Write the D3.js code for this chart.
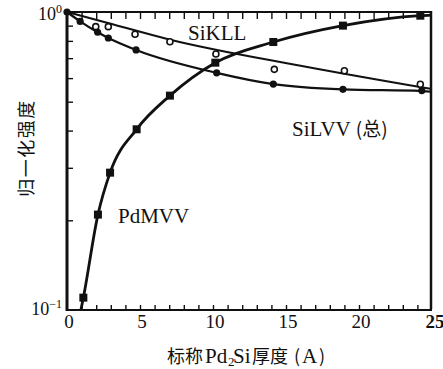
<!DOCTYPE html>
<html>
<head>
<meta charset="utf-8">
<script src="https://cdn.jsdelivr.net/npm/d3@7/dist/d3.min.js"></script>
<style>
  html, body { margin: 0; padding: 0; background: #fff; }
  svg { display: block; }
</style>
</head>
<body>
<svg id="chart" width="443" height="369"></svg>
<script>
// ---- data ----
const xTickLabels = [0, 5, 10, 15, 20, 25];
const yMinorTicks = [0.2, 0.3, 0.4, 0.5, 0.6, 0.7, 0.8, 0.9];

// PdMVV (filled squares)
const pdX = [1.12, 2.12, 2.95, 4.77, 7.05, 10.16, 14.13, 18.9, 24.2];
const pdY = [0.110, 0.209, 0.289, 0.404, 0.524, 0.676, 0.793, 0.900, 0.972];
// PdMVV drawn curve
const pdCurveX = [0.95, 1.12, 2.12, 2.95, 4.77, 7.05, 10.16, 14.13, 18.9, 24.2, 25];
const pdCurveY = [0.100, 0.110, 0.209, 0.289, 0.404, 0.524, 0.676, 0.793, 0.900, 0.972, 0.976];

// SiLVV (total) (filled circles)
const lvvX = [0, 0.9, 2.1, 2.83, 4.73, 10.25, 14.13, 18.9, 24.3];
const lvvY = [1.0, 0.930, 0.855, 0.818, 0.746, 0.625, 0.573, 0.550, 0.545];
const lvvCurveX = [0, 0.9, 2.1, 2.83, 4.73, 10.25, 14.13, 18.9, 24.3, 25];
const lvvCurveY = [1.0, 0.930, 0.855, 0.818, 0.746, 0.625, 0.573, 0.550, 0.543, 0.540];

// SiKLL (open circles)
const kllX = [1.97, 2.83, 4.66, 7.05, 10.2, 14.2, 19.0, 24.2];
const kllY = [0.893, 0.893, 0.842, 0.795, 0.723, 0.642, 0.635, 0.572];
// SiKLL fitted line
const kllCurveX = [0, 2.8, 7, 16, 25];
const kllCurveY = [1.0, 0.919, 0.809, 0.660, 0.551];

// ---- drawing ----
const svg = d3.select("#chart");
const ink = "#111";
const serif = "'Liberation Serif', 'DejaVu Serif', serif";
const cjk = "'Noto Sans CJK SC', sans-serif";

svg.append("rect").attr("width", 443).attr("height", 369).attr("fill", "#fff");

const x = d3.scaleLinear().domain([0, 25]).range([67, 432]);
const y = d3.scaleLog().domain([0.1, 1]).range([310, 12]);

// ticks (inward)
const intTicks = d3.range(1, 25);
const gTop = svg.append("g").attr("transform", `translate(0,${y(1)})`)
  .call(d3.axisTop(x).tickValues(intTicks).tickSize(-7).tickFormat(""));
const gBot = svg.append("g").attr("transform", `translate(0,${y(0.1)})`)
  .call(d3.axisBottom(x).tickValues(intTicks).tickSize(-5).tickFormat(""));
const gLeft = svg.append("g").attr("transform", `translate(${x(0)},0)`)
  .call(d3.axisLeft(y).tickValues(yMinorTicks).tickSize(-6).tickFormat(""));
[gTop, gBot, gLeft].forEach(g => {
  g.select(".domain").remove();
  g.selectAll(".tick line").attr("stroke", ink).attr("stroke-width", 1.4);
});

// frame
const frame = svg.append("g").attr("stroke", ink).attr("fill", "none");
frame.append("line").attr("x1", x(0)).attr("x2", x(0)).attr("y1", y(1) - 1).attr("y2", y(0.1) + 1).attr("stroke-width", 3);
frame.append("line").attr("x1", x(0)).attr("x2", x(25)).attr("y1", y(0.1)).attr("y2", y(0.1)).attr("stroke-width", 2);
frame.append("line").attr("x1", x(0)).attr("x2", x(25)).attr("y1", y(1)).attr("y2", y(1)).attr("stroke-width", 2);
frame.append("line").attr("x1", x(25) - 1).attr("x2", x(25) - 1).attr("y1", y(1) - 1).attr("y2", y(0.1) - 1).attr("stroke-width", 2.5);

// x tick labels
svg.append("g").selectAll("text").data(xTickLabels).join("text")
  .attr("x", d => x(d) + (d === 25 ? 3 : 2))
  .attr("y", 328)
  .attr("text-anchor", "middle")
  .attr("font-family", serif)
  .attr("font-size", 19)
  .attr("font-weight", d => d === 25 ? "bold" : "normal")
  .attr("fill", ink)
  .text(d => d);

// y tick labels 10^0, 10^-1
function powLabel(exp, yy) {
  const t = svg.append("text")
    .attr("x", 62).attr("y", yy)
    .attr("text-anchor", "end")
    .attr("font-family", serif).attr("font-size", 18).attr("fill", ink);
  t.append("tspan").text("10");
  t.append("tspan").attr("font-size", 12).attr("dy", -7).text(exp);
}
powLabel("0", y(1) + 8);
powLabel("\u22121", y(0.1) + 5);

// curves
const line = d3.line().x(d => x(d[0])).y(d => y(d[1])).curve(d3.curveMonotoneX);
svg.append("path").datum(d3.zip(kllCurveX, kllCurveY)).attr("d", line)
  .attr("fill", "none").attr("stroke", ink).attr("stroke-width", 2);
svg.append("path").datum(d3.zip(lvvCurveX, lvvCurveY)).attr("d", line)
  .attr("fill", "none").attr("stroke", ink).attr("stroke-width", 2.2);
svg.append("path").datum(d3.zip(pdCurveX, pdCurveY)).attr("d", line)
  .attr("fill", "none").attr("stroke", ink).attr("stroke-width", 2.8);

// markers
svg.append("g").selectAll("circle").data(d3.zip(kllX, kllY)).join("circle")
  .attr("cx", d => x(d[0])).attr("cy", d => y(d[1])).attr("r", 3)
  .attr("fill", "#fff").attr("stroke", ink).attr("stroke-width", 1.6);
svg.append("g").selectAll("circle").data(d3.zip(lvvX, lvvY)).join("circle")
  .attr("cx", d => x(d[0])).attr("cy", d => y(d[1])).attr("r", 3.6)
  .attr("fill", ink);
svg.append("g").selectAll("rect").data(d3.zip(pdX, pdY)).join("rect")
  .attr("x", d => x(d[0]) - 4).attr("y", d => y(d[1]) - 4)
  .attr("width", 8).attr("height", 8).attr("fill", ink);

// series labels
function label(txt, xx, yy) {
  return svg.append("text").attr("x", xx).attr("y", yy)
    .attr("font-family", serif).attr("font-size", 21).attr("fill", ink).text(txt);
}
label("SiKLL", 188, 40);
label("PdMVV", 118, 223);
const lv = svg.append("text").attr("x", 292).attr("y", 136)
  .attr("font-family", serif).attr("font-size", 21).attr("fill", ink);
lv.append("tspan").text("SiLVV");
lv.append("tspan").attr("font-family", cjk).attr("font-size", 19).attr("dx", 5).text("(总)");

// axis titles
const xt = svg.append("text").attr("y", 363).attr("fill", ink);
const parts = [
  { t: "标称", f: cjk, s: 18, x: 167 },
  { t: "Pd", f: serif, s: 21, x: 205 },
  { t: "2", f: serif, s: 13, x: 228, dy: 3 },
  { t: "Si", f: serif, s: 21, x: 233, dy: -3 },
  { t: "厚度", f: cjk, s: 18, x: 252 },
  { t: "(", f: cjk, s: 18, x: 294 },
  { t: "A", f: serif, s: 21, x: 302 },
  { t: ")", f: cjk, s: 18, x: 319 }
];
parts.forEach(p => {
  const ts = xt.append("tspan").attr("x", p.x).attr("font-family", p.f).attr("font-size", p.s).text(p.t);
  if (p.dy) ts.attr("dy", p.dy);
});

svg.append("text")
  .attr("transform", "translate(25,148) rotate(-90)")
  .attr("text-anchor", "middle").attr("dominant-baseline", "central")
  .attr("font-family", cjk).attr("font-size", 18).attr("letter-spacing", 1.5)
  .attr("fill", ink).text("归一化强度");
</script>
</body>
</html>
